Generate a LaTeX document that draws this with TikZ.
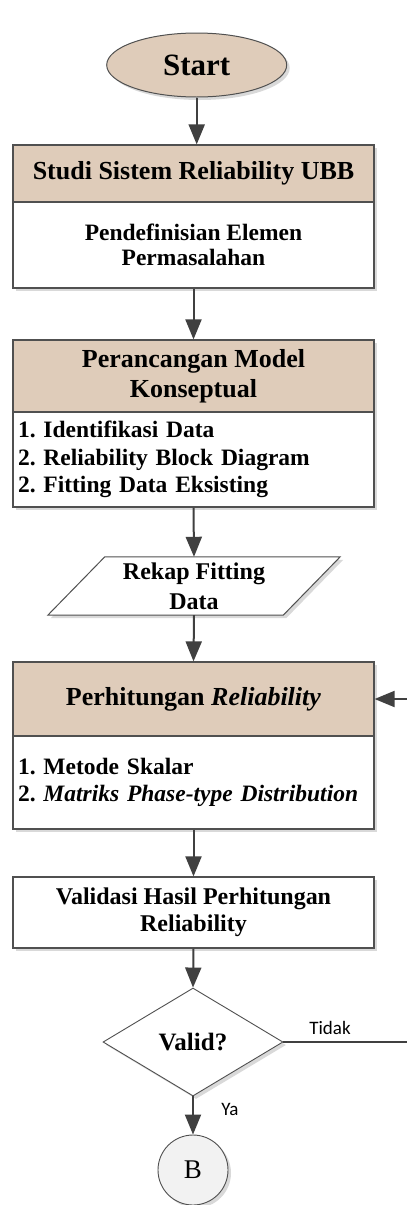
\documentclass[tikz,border=0pt]{standalone}
\usepackage{fontspec}
\setmainfont{Liberation Serif}
\newfontfamily\lblfont{Carlito}
\usetikzlibrary{arrows.meta,shapes.geometric,shadows,calc,backgrounds}
\definecolor{hdrfill}{RGB}{223,204,186}
\definecolor{edgecol}{RGB}{80,80,80}
\definecolor{linecol}{RGB}{64,64,64}
\definecolor{circfill}{RGB}{242,242,242}
\frenchspacing
\tikzset{
  shd/.style={drop shadow={shadow xshift=3pt,shadow yshift=-3pt,opacity=0.15,fill=black}},
  hdr/.style={draw=edgecol,line width=1.2pt,fill=hdrfill,minimum width=361pt,inner sep=0pt,align=center,
    font=\fontsize{26}{30}\selectfont\bfseries,shd},
  bodyc/.style={draw=edgecol,line width=1.2pt,fill=white,minimum width=361pt,inner sep=0pt,align=center,
    font=\fontsize{23.5}{26}\selectfont\bfseries,shd},
  bodyl/.style={draw=edgecol,line width=1.2pt,fill=white,text width=351pt,inner xsep=5pt,inner ysep=0pt,align=left,
    font=\fontsize{23.5}{27.5}\selectfont\bfseries,shd},
  arr/.style={draw=linecol,line width=2pt,-{Triangle[length=20pt,width=16pt]}},
  lbl/.style={font=\lblfont\fontsize{19}{22}\selectfont,inner sep=0pt},
}
\begin{document}
\begin{tikzpicture}[x=1pt,y=-1pt]
\clip (0,0) rectangle (407,1205);

\node[ellipse,draw=edgecol,line width=1pt,fill=hdrfill,minimum width=180pt,minimum height=64pt,inner sep=0pt,
  font=\fontsize{31}{34}\selectfont\bfseries,shd] (start) at (196.7,65) {Start};

\node[hdr,minimum height=57pt] (h1) at (193.5,173.5) {Studi Sistem Reliability UBB};
\node[bodyc,minimum height=86pt,font=\fontsize{23.5}{25}\selectfont\bfseries] (b1) at (193.5,245) {Pendefinisian Elemen\\Permasalahan};

\node[hdr,minimum height=72pt] (h2) at (193.5,376) {Perancangan Model\\Konseptual};
\node[bodyl,minimum height=95pt] (b2) at (193.5,459.5) {1. Identifikasi Data\\2. Reliability Block Diagram\\2. Fitting Data Eksisting};

\node[minimum width=235pt,minimum height=58pt,inner sep=0pt,align=center,
  font=\fontsize{24}{30}\selectfont\bfseries] (rekap) at (194,586) {Rekap Fitting\\Data};
\begin{scope}[on background layer]
\fill[white] (0,0) rectangle (407,1205);
\draw[draw=edgecol,line width=1pt,fill=white,shd]
  ($(rekap.south west)+(-28.5,0)$) -- ($(rekap.north west)+(28.5,0)$) --
  ($(rekap.north east)+(28.5,0)$) -- ($(rekap.south east)+(-28.5,0)$) -- cycle;
\end{scope}

\node[hdr,minimum height=74pt] (h3) at (193.5,699) {Perhitungan \textit{Reliability}};
\node[bodyl,minimum height=93pt] (b3) at (193.5,782.5) {1. Metode Skalar\\2. \textit{Matriks Phase-type Distribution}};

\node[bodyc,minimum height=71pt,font=\fontsize{24}{27}\selectfont\bfseries] (v4) at (193.5,912.5) {Validasi Hasil Perhitungan\\Reliability};

\node[diamond,draw=edgecol,line width=0.9pt,fill=white,minimum width=180pt,minimum height=108pt,aspect=1.67,
  inner sep=0pt,font=\fontsize{25}{28}\selectfont\bfseries,shd] (valid) at (193,1042) {Valid?};

\node[circle,draw=edgecol,line width=0.9pt,fill=circfill,minimum size=70pt,inner sep=0pt,
  font=\fontsize{27}{30}\selectfont,shd] (bnode) at (193,1170) {B};

\coordinate (fb) at (414,1042);

\draw[arr] (start.south) -- (start.south |- h1.north);
\draw[arr] (b1.south) -- (h2.north);
\draw[arr] (b2.south) -- (rekap.north);
\draw[arr] (rekap.south) -- (h3.north);
\draw[arr] (b3.south) -- (v4.north);
\draw[arr] (v4.south) -- (valid.north);
\draw[arr] (valid.south) -- (bnode.north);
\draw[arr] (valid.east) -- (fb) |- (h3.east);

\node[lbl] (tidak) at (330,1028) {Tidak};
\node[lbl] (ya) at (230,1109) {Ya};
\end{tikzpicture}
\end{document}
